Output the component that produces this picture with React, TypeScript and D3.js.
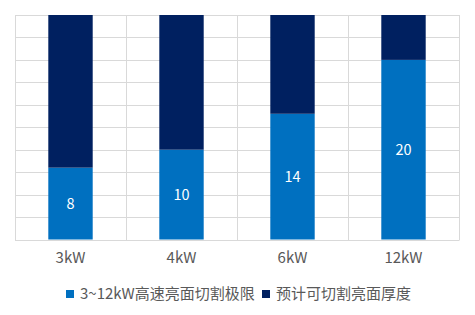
import React from "react";
import * as d3 from "d3";

const categories = ["3kW", "4kW", "6kW", "12kW"];
const highSpeed = [8, 10, 14, 20];
const expected = [17, 15, 11, 5];
const seriesNames = ["3~12kW高速亮面切割极限", "预计可切割亮面厚度"];
const seriesColors = ["#0070C0", "#002060"];
const yMax = 25;
const yStep = 2.5;

const W = 475;
const H = 315;
const left = 15;
const right = 459;
const top = 15;
const bottom = 239.5;
const FONT = "'Noto Sans CJK SC', 'Noto Sans', sans-serif";

export default function App() {
  const x = d3.scaleBand<string>().domain(categories).range([left, right]).paddingInner(0.6).paddingOuter(0.3);
  const y = d3.scaleLinear().domain([0, yMax]).range([bottom, top]);
  const rows = categories.map((c, i) => ({ cat: c, a: highSpeed[i], b: expected[i] }));
  const stack = d3.stack<any>().keys(["a", "b"])(rows);
  const yTicks = d3.range(0, yMax + 0.001, yStep);
  const step = x.step();
  const vLines = d3.range(0, categories.length + 1).map((i) => left + i * step);

  return (
    <svg width={W} height={H} style={{ position: "absolute", left: 0, top: 0, background: "#fff" }} fontFamily={FONT}>
      <rect width={W} height={H} fill="#fff" />
      {yTicks.map((t) => (
        <line key={"h" + t} x1={left} x2={right} y1={Math.round(y(t)) + 0.5} y2={Math.round(y(t)) + 0.5} stroke="#d9d9d9" strokeWidth={1} />
      ))}
      {vLines.map((v, i) => (
        <line key={"v" + i} x1={Math.round(v) + 0.5} x2={Math.round(v) + 0.5} y1={top} y2={bottom + 1} stroke="#d9d9d9" strokeWidth={1} />
      ))}
      {stack.map((s, si) => (
        <g key={si} fill={seriesColors[si]}>
          {s.map((d: any) => (
            <rect key={d.data.cat} x={x(d.data.cat)} width={x.bandwidth()} y={y(d[1])} height={y(d[0]) - y(d[1])} />
          ))}
        </g>
      ))}
      {rows.map((r) => (
        <text key={"l" + r.cat} x={(x(r.cat) as number) + x.bandwidth() / 2} y={(y(0) + y(r.a)) / 2} dy="0.35em" textAnchor="middle" fill="#fff" fontSize={14.5}>
          {r.a}
        </text>
      ))}
      {categories.map((c) => (
        <text key={"c" + c} x={(x(c) as number) + x.bandwidth() / 2} y={263} textAnchor="middle" fill="#595959" fontSize={15}>
          {c}
        </text>
      ))}
      <g fontSize={15} fill="#595959">
        <rect x={66} y={290} width={8} height={8} fill={seriesColors[0]} />
        <text x={80} y={299}>{seriesNames[0]}</text>
        <rect x={262} y={290} width={8} height={8} fill={seriesColors[1]} />
        <text x={276} y={299}>{seriesNames[1]}</text>
      </g>
    </svg>
  );
}
